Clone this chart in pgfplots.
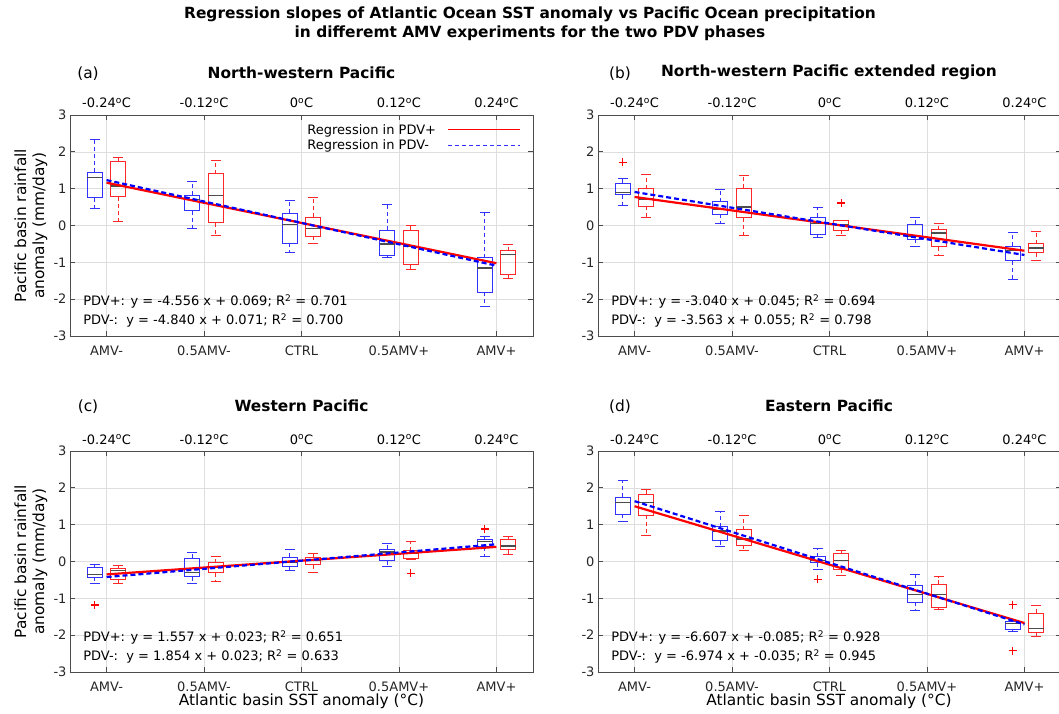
\documentclass[border=0pt]{standalone}
\usepackage{fontspec}
\setmainfont{DejaVu Sans}
\usepackage{pgfplots}
\pgfplotsset{compat=1.18}
\usepgfplotslibrary{statistics}

\definecolor{boxred}{RGB}{255,40,40}
\definecolor{boxblue}{RGB}{50,50,255}
\definecolor{outred}{RGB}{255,0,0}

\newcommand{\tfont}{\fontsize{13pt}{15pt}\selectfont}
\newcommand{\lfont}{\fontsize{15.4pt}{18pt}\selectfont}

% box: colour, position, lower whisker, lower quartile, median, upper quartile, upper whisker
\newcommand{\bx}[7]{%
  \addplot[#1, line width=0.8pt, forget plot, mark=none,
    boxplot prepared={draw direction=y, draw position=#2, lower whisker=#3, lower quartile=#4,
      median=#5, upper quartile=#6, upper whisker=#7}] coordinates {};}
% outliers (always red +)
\newcommand{\outl}[1]{%
  \addplot[only marks, forget plot, mark=+, mark size=4pt, outred, line width=1.25pt] coordinates {#1};}

\pgfplotsset{
  boxplot/draw/lower whisker/.code={%
    \draw[/pgfplots/boxplot/every whisker/.try, dash pattern=on 4pt off 3pt]
      (boxplot cs:\pgfplotsboxplotvalue{lower quartile})
      -- (boxplot cs:\pgfplotsboxplotvalue{lower whisker});
    \draw[/pgfplots/boxplot/every whisker/.try]
      (boxplot whisker cs:\pgfplotsboxplotvalue{lower whisker},0)
      -- (boxplot whisker cs:\pgfplotsboxplotvalue{lower whisker},1);
  },
  boxplot/draw/upper whisker/.code={%
    \draw[/pgfplots/boxplot/every whisker/.try, dash pattern=on 4pt off 3pt]
      (boxplot cs:\pgfplotsboxplotvalue{upper quartile})
      -- (boxplot cs:\pgfplotsboxplotvalue{upper whisker});
    \draw[/pgfplots/boxplot/every whisker/.try]
      (boxplot whisker cs:\pgfplotsboxplotvalue{upper whisker},0)
      -- (boxplot whisker cs:\pgfplotsboxplotvalue{upper whisker},1);
  },
  panel/.style={
    scale only axis, width=463pt, height=221pt, anchor=south west,
    xmin=-0.285, xmax=0.285, ymin=-3, ymax=3,
    xtick={-0.24,-0.12,0,0.12,0.24},
    xticklabels={AMV-,0.5AMV-,CTRL,0.5AMV+,AMV+},
    ytick={-3,-2,-1,0,1,2,3}, yticklabels={-3,-2,-1,0,1,2,3},
    grid=major, major grid style={black!13, line width=0.6pt},
    axis line style={black!70, line width=0.7pt},
    tick style={black!70, line width=0.7pt}, major tick length=5pt,
    tick align=inside,
    ticklabel style={font=\tfont, text=black!85},
    xticklabel style={anchor=base, yshift=-19pt},
    clip=false,
    boxplot/draw direction=y,
    boxplot/box extend=0.0185, boxplot/whisker extend=0.012,
    boxplot/every median/.style={black!70, line width=1.3pt},
  },
  regp/.style={red, line width=2.2pt, forget plot},
  regm/.style={blue, line width=2.2pt, dash pattern=on 5pt off 3pt, forget plot},
}

\newcommand{\toplabels}{%
  \node[anchor=base, yshift=7pt, font=\tfont] at (axis cs:-0.24,3) {-0.24\textsuperscript{o}C};
  \node[anchor=base, yshift=7pt, font=\tfont] at (axis cs:-0.12,3) {-0.12\textsuperscript{o}C};
  \node[anchor=base, yshift=7pt, font=\tfont] at (axis cs:0,3) {0\textsuperscript{o}C};
  \node[anchor=base, yshift=7pt, font=\tfont] at (axis cs:0.12,3) {0.12\textsuperscript{o}C};
  \node[anchor=base, yshift=7pt, font=\tfont] at (axis cs:0.24,3) {0.24\textsuperscript{o}C};
}
\newcommand{\eqs}[2]{%
  \node[anchor=base west, inner sep=0pt, font=\tfont] at (axis cs:-0.2689,-2.17) {#1};
  \node[anchor=base west, inner sep=0pt, font=\tfont] at (axis cs:-0.2689,-2.70) {#2};
}

\begin{document}
\begin{tikzpicture}
\useasboundingbox (0pt,0pt) rectangle (1059pt,713pt);

% main title
\node[align=center, font=\bfseries\fontsize{15.4pt}{19pt}\selectfont] at (530pt,689.5pt)
  {Regression slopes of Atlantic Ocean SST anomaly vs Pacific Ocean precipitation\\in differemt AMV experiments for the two PDV phases};

% panel titles
\node[font=\bfseries\lfont] at (301.5pt,640pt) {North-western Pacific};
\node[font=\lfont] at (88pt,639pt) {(a)};
\node[font=\bfseries\lfont] at (829pt,641pt) {North-western Pacific extended region};
\node[font=\lfont] at (620pt,639pt) {(b)};
\node[font=\bfseries\lfont] at (301.5pt,307pt) {Western Pacific};
\node[font=\lfont] at (88pt,306pt) {(c)};
\node[font=\bfseries\lfont] at (829pt,307pt) {Eastern Pacific};
\node[font=\lfont] at (620pt,306pt) {(d)};

% axis labels
\node[rotate=90, align=center, font=\lfont] at (31pt,487.5pt) {Pacific basin rainfall\\anomaly (mm/day)};
\node[rotate=90, align=center, font=\lfont] at (31pt,151.5pt) {Pacific basin rainfall\\anomaly (mm/day)};
\node[anchor=base, font=\lfont] at (301.5pt,7.5pt) {Atlantic basin SST anomaly (°C)};
\node[anchor=base, font=\lfont] at (829pt,7.5pt) {Atlantic basin SST anomaly (°C)};

% ---------------- (a)
\begin{axis}[panel, at={(70pt,377pt)},
  legend plot pos=right,
  legend style={at={(rel axis cs:1,1)}, anchor=north east, xshift=-9pt, yshift=-5.5pt,
    draw=none, fill=none, font=\tfont, row sep=1pt,
    nodes={inner sep=1.5pt},
    /tikz/every odd column/.append style={column sep=10pt}},
  legend image code/.code={\draw[#1] (0pt,0pt) -- (72pt,0pt);},
  legend cell align=left]
\addlegendimage{red, line width=1.2pt}
\addlegendentry{Regression in PDV+}
\addlegendimage{boxblue, line width=1.2pt, dash pattern=on 4pt off 3pt}
\addlegendentry{Regression in PDV-}
\bx{boxblue}{-0.2545}{0.47}{0.76}{1.30}{1.45}{2.35}
\bx{boxred}{-0.2255}{0.12}{0.78}{1.07}{1.73}{1.84}
\bx{boxblue}{-0.1345}{-0.07}{0.40}{0.71}{0.83}{1.21}
\bx{boxred}{-0.1055}{-0.28}{0.08}{0.82}{1.41}{1.77}
\bx{boxblue}{-0.0145}{-0.73}{-0.48}{0.02}{0.34}{0.69}
\bx{boxred}{0.0145}{-0.48}{-0.29}{-0.09}{0.22}{0.77}
\bx{boxblue}{0.1055}{-0.87}{-0.82}{-0.50}{-0.12}{0.57}
\bx{boxred}{0.1345}{-1.20}{-1.06}{-0.57}{-0.13}{0.00}
\bx{boxblue}{0.2255}{-2.19}{-1.81}{-1.15}{-0.87}{0.36}
\bx{boxred}{0.2545}{-1.43}{-1.33}{-0.79}{-0.68}{-0.50}
\addplot[regp] coordinates {(-0.24,1.16234) (0.24,-1.02444)};
\addplot[regm] coordinates {(-0.24,1.2326) (0.24,-1.0906)};
\toplabels
\eqs{PDV+: y = -4.556 x + 0.069; R\textsuperscript{2} = 0.701}{PDV-:\ \ y = -4.840 x + 0.071; R\textsuperscript{2} = 0.700}
\end{axis}

% ---------------- (b)
\begin{axis}[panel, at={(598pt,377pt)}]
\bx{boxblue}{-0.2545}{0.55}{0.84}{0.89}{1.15}{1.29}
\bx{boxred}{-0.2255}{0.23}{0.52}{0.72}{1.00}{1.40}
\bx{boxblue}{-0.1345}{0.07}{0.30}{0.43}{0.65}{0.98}
\bx{boxred}{-0.1055}{-0.27}{0.21}{0.50}{1.01}{1.35}
\bx{boxblue}{-0.0145}{-0.33}{-0.23}{0.05}{0.23}{0.48}
\bx{boxred}{0.0145}{-0.27}{-0.13}{0.02}{0.15}{0.15}
\bx{boxblue}{0.1055}{-0.58}{-0.38}{-0.29}{0.03}{0.21}
\bx{boxred}{0.1345}{-0.81}{-0.58}{-0.20}{-0.11}{0.05}
\bx{boxblue}{0.2255}{-1.47}{-0.96}{-0.68}{-0.57}{-0.19}
\bx{boxred}{0.2545}{-0.96}{-0.74}{-0.61}{-0.49}{-0.16}
\outl{(-0.2545,1.72) (0.0145,0.61)}
\addplot[regp] coordinates {(-0.24,0.7746) (0.24,-0.6846)};
\addplot[regm] coordinates {(-0.24,0.91012) (0.24,-0.80012)};
\toplabels
\eqs{PDV+: y = -3.040 x + 0.045; R\textsuperscript{2} = 0.694}{PDV-:\ \ y = -3.563 x + 0.055; R\textsuperscript{2} = 0.798}
\end{axis}

% ---------------- (c)
\begin{axis}[panel, at={(70pt,41pt)}]
\bx{boxblue}{-0.2545}{-0.59}{-0.43}{-0.36}{-0.17}{-0.09}
\bx{boxred}{-0.2255}{-0.59}{-0.49}{-0.25}{-0.18}{-0.10}
\bx{boxblue}{-0.1345}{-0.60}{-0.41}{-0.30}{0.09}{0.26}
\bx{boxred}{-0.1055}{-0.54}{-0.30}{-0.16}{-0.03}{0.15}
\bx{boxblue}{-0.0145}{-0.23}{-0.12}{-0.03}{0.11}{0.33}
\bx{boxred}{0.0145}{-0.30}{-0.09}{0.02}{0.11}{0.22}
\bx{boxblue}{0.1055}{-0.14}{0.02}{0.26}{0.33}{0.48}
\bx{boxred}{0.1345}{0.06}{0.09}{0.22}{0.29}{0.54}
\bx{boxblue}{0.2255}{0.13}{0.40}{0.54}{0.59}{0.69}
\bx{boxred}{0.2545}{0.20}{0.32}{0.42}{0.59}{0.67}
\outl{(-0.2545,-1.18) (0.1345,-0.32) (0.2255,0.88)}
\addplot[regp] coordinates {(-0.24,-0.35068) (0.24,0.39668)};
\addplot[regm] coordinates {(-0.24,-0.42196) (0.24,0.46796)};
\toplabels
\eqs{PDV+: y = 1.557 x + 0.023; R\textsuperscript{2} = 0.651}{PDV-:\ \ y = 1.854 x + 0.023; R\textsuperscript{2} = 0.633}
\end{axis}

% ---------------- (d)
\begin{axis}[panel, at={(598pt,41pt)}]
\bx{boxblue}{-0.2545}{1.10}{1.28}{1.60}{1.75}{2.19}
\bx{boxred}{-0.2255}{0.70}{1.26}{1.60}{1.82}{1.96}
\bx{boxblue}{-0.1345}{0.40}{0.56}{0.83}{0.94}{1.37}
\bx{boxred}{-0.1055}{0.31}{0.45}{0.61}{0.86}{1.26}
\bx{boxblue}{-0.0145}{-0.21}{-0.03}{0.02}{0.13}{0.35}
\bx{boxred}{0.0145}{-0.37}{-0.21}{0.02}{0.22}{0.29}
\bx{boxblue}{0.1055}{-1.32}{-1.11}{-0.89}{-0.65}{-0.34}
\bx{boxred}{0.1345}{-1.29}{-1.25}{-0.89}{-0.61}{-0.41}
\bx{boxblue}{0.2255}{-1.91}{-1.83}{-1.68}{-1.63}{-1.63}
\bx{boxred}{0.2545}{-2.04}{-1.92}{-1.81}{-1.41}{-1.18}
\outl{(-0.0145,-0.48) (0.2255,-1.17) (0.2255,-2.42)}
\addplot[regp] coordinates {(-0.24,1.50068) (0.24,-1.67068)};
\addplot[regm] coordinates {(-0.24,1.63876) (0.24,-1.70876)};
\toplabels
\eqs{PDV+: y = -6.607 x + -0.085; R\textsuperscript{2} = 0.928}{PDV-:\ \ y = -6.974 x + -0.035; R\textsuperscript{2} = 0.945}
\end{axis}
\end{tikzpicture}
\end{document}
